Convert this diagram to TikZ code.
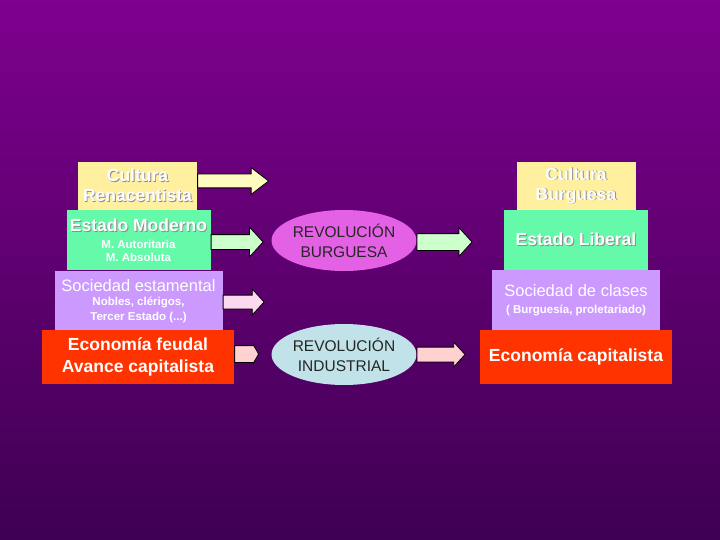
\documentclass[tikz,border=0pt]{standalone}
\usepackage{fontspec}
\setmainfont{Liberation Sans}
\usepackage{tikz}
\usetikzlibrary{positioning}
\usetikzlibrary{shapes.arrows,shapes.geometric}

\definecolor{bgtop}{RGB}{126,0,142}
\definecolor{bgbot}{RGB}{62,0,82}
\definecolor{cultfill}{RGB}{255,240,160}
\definecolor{estfill}{RGB}{100,250,170}
\definecolor{socfill}{RGB}{204,153,255}
\definecolor{ecofill}{RGB}{255,51,0}
\definecolor{burgfill}{RGB}{228,96,228}
\definecolor{indfill}{RGB}{192,226,232}

% white text with a soft dark shadow
\newcommand{\shadowed}[1]{\leavevmode\rlap{\hspace{0.9pt}\raisebox{-0.9pt}{\color{black!45}#1}}#1}

\begin{document}
\begin{tikzpicture}[x=1pt, y=-1pt,
    level/.style={
        inner sep=0pt, align=center, text=white
    },
    cult/.style={level, fill=cultfill, minimum width=119pt, minimum height=48pt,
        font=\fontsize{17.5}{20}\selectfont\bfseries},
    est/.style={level, fill=estfill, minimum width=144pt, minimum height=60pt,
        font=\fontsize{11.5}{13}\selectfont\bfseries},
    soc/.style={level, fill=socfill, minimum width=168pt, minimum height=60pt,
        font=\fontsize{11.5}{14}\selectfont\bfseries},
    eco/.style={level, fill=ecofill, minimum width=192pt, minimum height=54pt,
        font=\fontsize{17.5}{22}\selectfont\bfseries},
    revol/.style={ellipse, inner sep=0pt, minimum width=138pt, minimum height=61pt,
        align=center, text=black!85, font=\fontsize{15.5}{20}\selectfont},
    blockarrow/.style={single arrow, draw=black, line width=0.8pt,
        inner xsep=0pt, single arrow tip angle=95, anchor=tail},
]

% Background
\shade[top color=bgtop, bottom color=bgbot] (0,0) rectangle (720,540);
\useasboundingbox (0,0) rectangle (720,540);

% Old regime (left)
\node[cult] (cultR) at (137.5,186) {\shadowed{Cultura}\\\shadowed{Renacentista}};
\node[est]  (estM)  at (138.5,240) {{\fontsize{17.5}{17}\selectfont\shadowed{Estado Moderno}}\\[4pt]
    M. Autoritaria\\M. Absoluta};
\node[soc]  (socE)  at (138.5,301) {{\fontsize{16.5}{14}\selectfont\mdseries Sociedad estamental}\\[0pt]
    Nobles, clérigos,\\[1pt]
    Tercer Estado (...)};
\node[eco]  (ecoF)  at (138,357) {Economía feudal\\Avance capitalista};

% Revolutions
\node[revol, fill=burgfill] (revB) at (344,240.5) {REVOLUCIÓN\\BURGUESA};
\node[revol, fill=indfill]  (revI) at (344,354.5) {REVOLUCIÓN\\INDUSTRIAL};

% New regime (right)
\node[cult] (cultB) at (576,186) {\shadowed{Cultura}\\\shadowed{Burguesa}};
\node[est]  (estL)  at (576,240) {\fontsize{17.5}{20}\selectfont\shadowed{Estado Liberal}};
\node[soc]  (socC)  at (576,300) {{\fontsize{16.5}{16}\selectfont\mdseries Sociedad de clases}\\[3pt]
    ( Burguesía, proletariado)};
\node[eco]  (ecoC)  at (576,357) {Economía capitalista};

% Arrows
\node[blockarrow, fill=yellow!25, minimum height=71pt, inner ysep=6.5pt,
    single arrow head extend=6.5pt, single arrow tip angle=75]
    (arrC) at ([yshift=5pt]cultR.east) {};
\node[blockarrow, fill=green!20, minimum height=52pt, inner ysep=7pt,
    single arrow head extend=7.5pt] (arrE) at ([yshift=-2pt]estM.east) {};
\node[blockarrow, fill=magenta!15, minimum height=41pt, inner ysep=6.5pt,
    single arrow head extend=6pt] (arrS) at ([yshift=-1pt]socE.east) {};
\node[blockarrow, fill=red!18, minimum height=24pt, inner ysep=8pt,
    single arrow head extend=0.5pt, single arrow tip angle=120]
    (arrF) at ([yshift=3pt]ecoF.east) {};
\node[blockarrow, fill=green!20, minimum height=55pt, inner ysep=8pt,
    single arrow head extend=6pt] (arrB) at ([yshift=-1.5pt]revB.east) {};
\node[blockarrow, fill=red!18, minimum height=48pt, inner ysep=7pt,
    single arrow head extend=5pt] (arrI) at (revI.east) {};

\end{tikzpicture}
\end{document}
